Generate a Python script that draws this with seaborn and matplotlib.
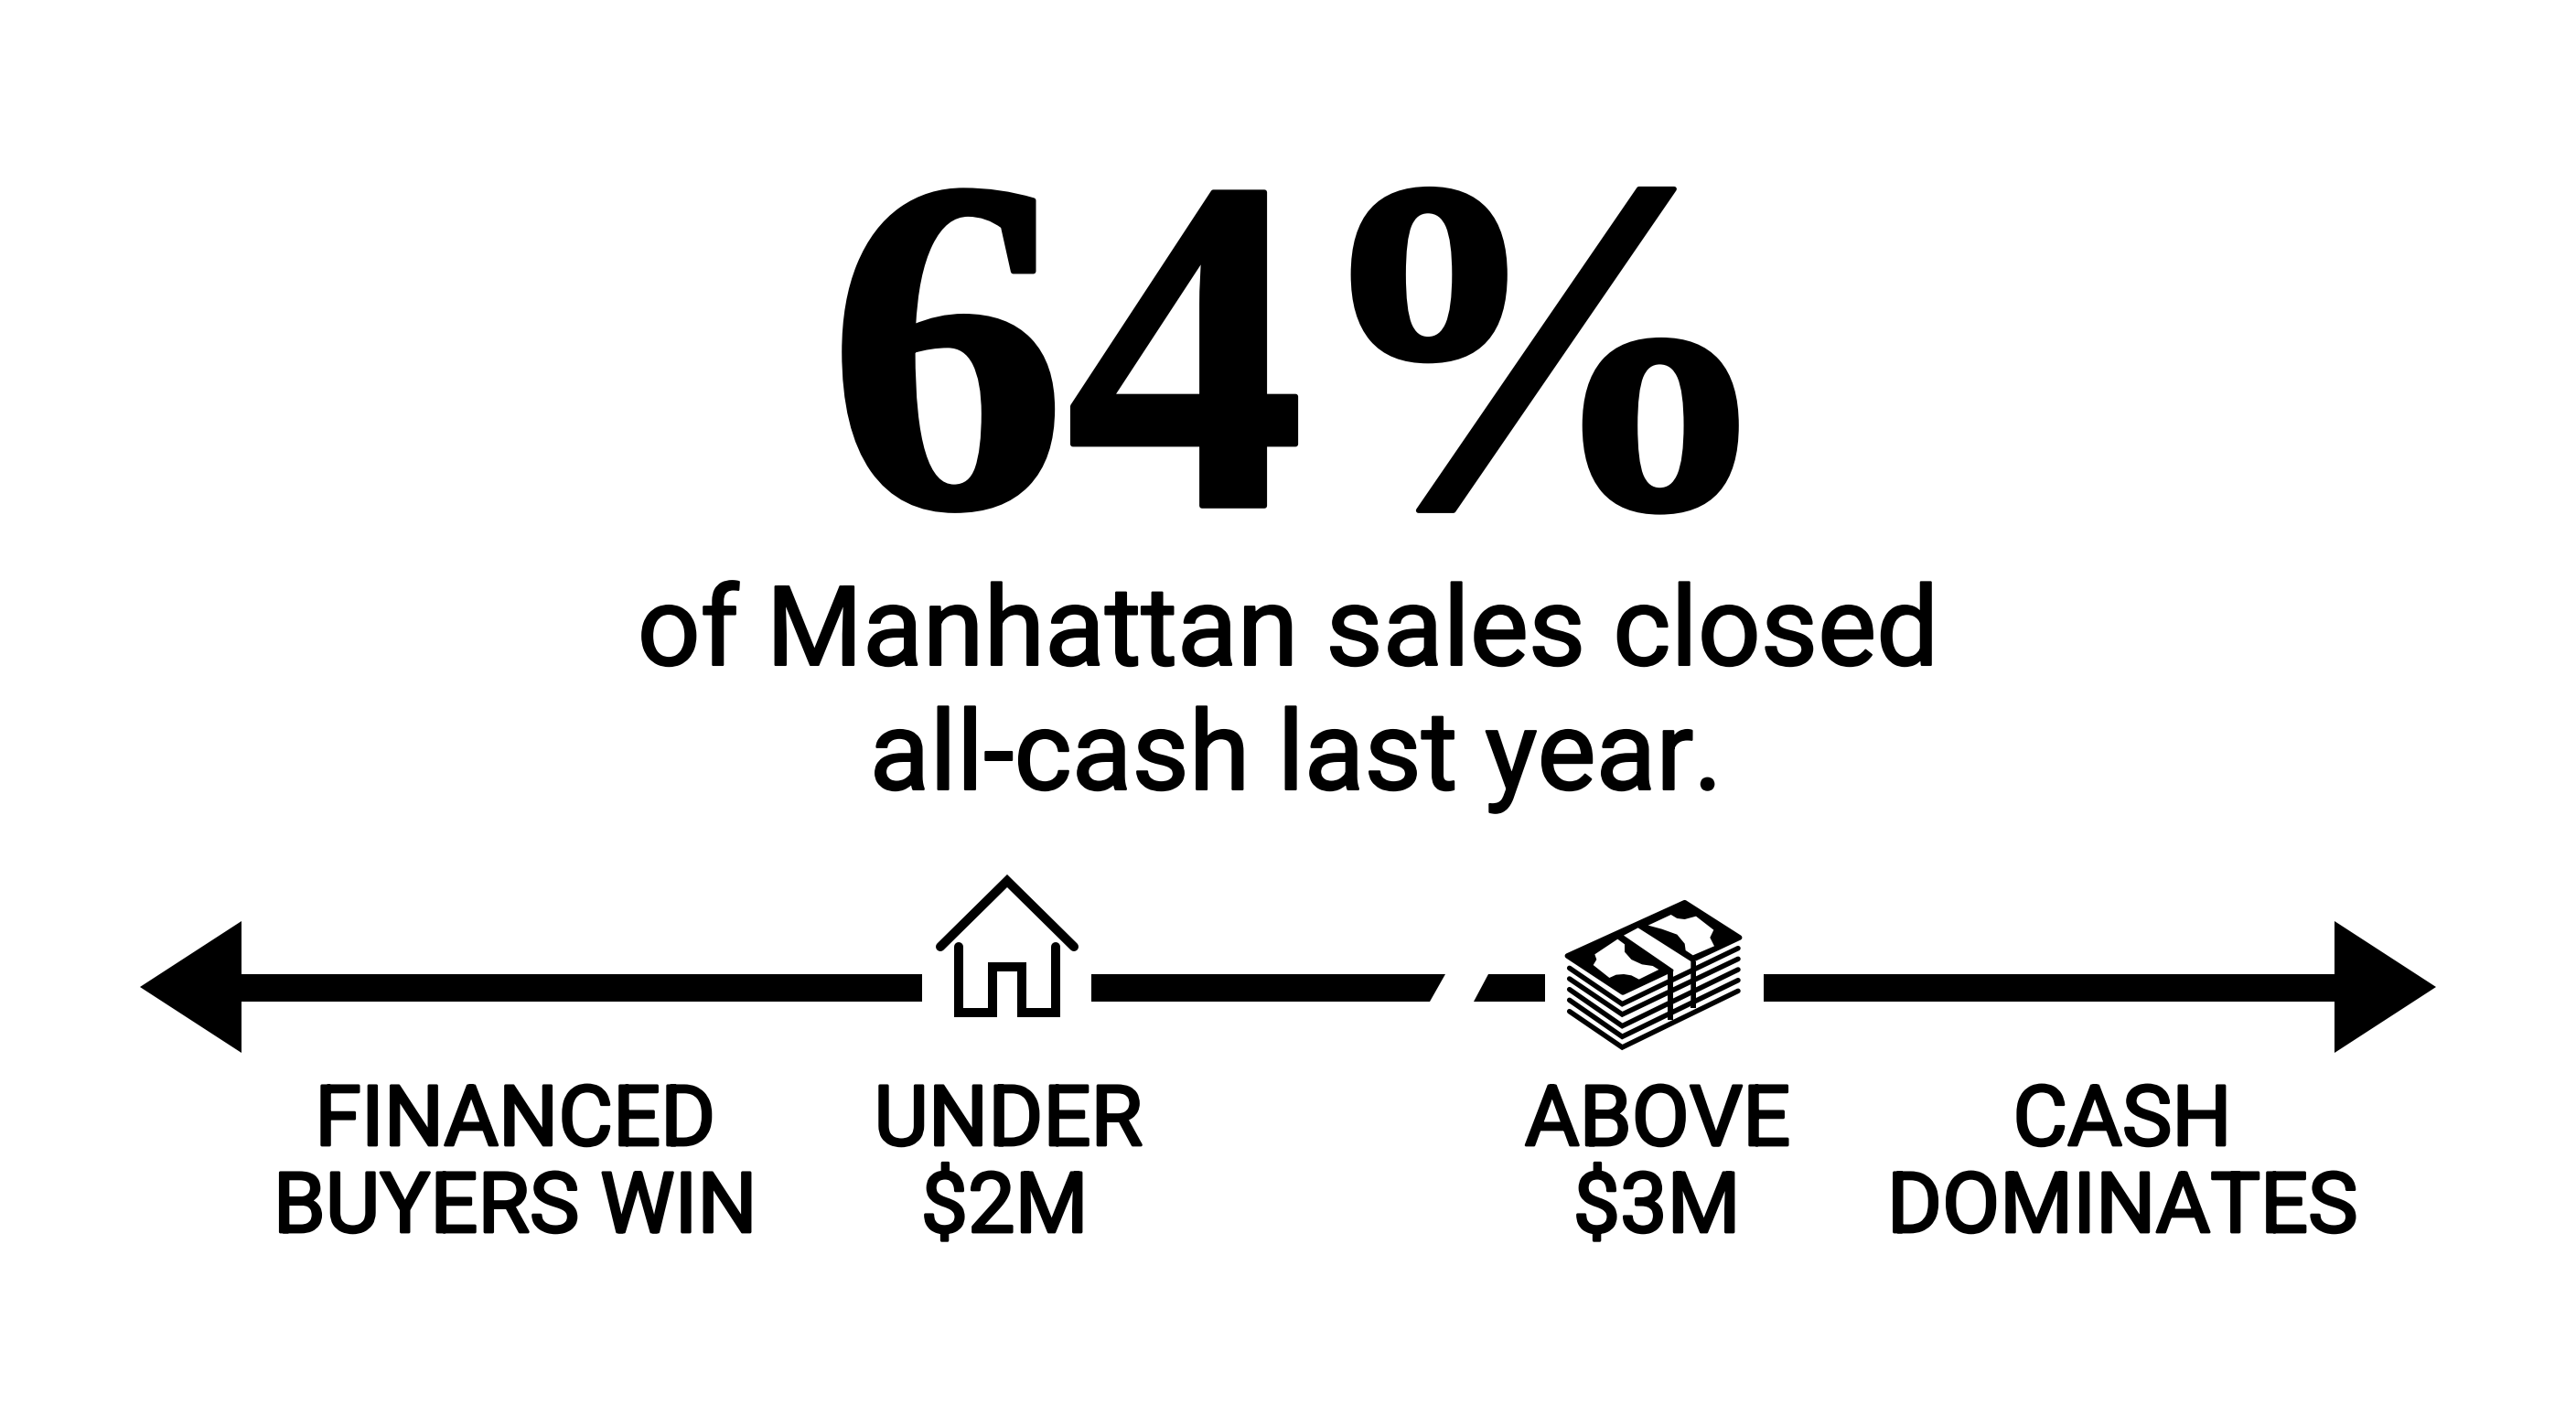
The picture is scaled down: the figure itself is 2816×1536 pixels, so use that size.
import pandas as pd
import matplotlib
matplotlib.use('Agg')
import matplotlib.pyplot as plt
import matplotlib.patheffects as pe
import seaborn as sns

W, H = 2816, 1536

# text
headline = '64%'
sub_lines = ['of Manhattan sales closed', 'all-cash last year.']
sub_x = [1408, 1417]
sub_y = [727, 863]
labels_top = ['FINANCED', 'UNDER', 'ABOVE', 'CASH']
labels_bottom = ['BUYERS WIN', '$2M', '$3M', 'DOMINATES']
labels_top_x = [563, 1102, 1812, 2320]
labels_bottom_x = [563, 1098, 1811, 2320]

# arrow shaft, in pixels of the reference
shaft_y = 1080
shaft_starts = [264, 1193, 1640, 1928]
shaft_ends = [1008, 1560, 1689, 2552]
slash_left = [(1563, 1095), (1580, 1065), (1559, 1065), (1559, 1095)]
slash_right = [(1611, 1095), (1627, 1065), (1641, 1065), (1641, 1095)]
head_left = [(153, 1079), (264, 1007), (264, 1151)]
head_right = [(2663, 1079), (2552, 1007), (2552, 1151)]

# house icon
roof_x = [1028, 1101, 1174]
roof_y = [1035, 963, 1035]
body_x = [1048, 1048, 1085, 1085, 1117, 1117, 1154, 1154]
body_y = [1035, 1107, 1107, 1057, 1057, 1107, 1107, 1035]

bill = [(40, 210), (425, 35), (605, 150), (222, 330)]
note_left = [(130, 205), (136, 222), (125, 240), (178, 282), (200, 272), (225, 270), (250, 274), (275, 287),
             (340, 255), (320, 243), (285, 238), (250, 222), (228, 197), (228, 172), (205, 155)]
note_right = [(305, 110), (380, 75), (400, 87), (425, 90), (462, 80), (520, 125), (508, 150), (522, 178),
              (452, 208), (428, 192), (425, 170), (400, 140), (350, 122)]
band = [(225, 143), (272, 118), (445, 228), (445, 375), (388, 413), (388, 255)]
band_posts = [(370, 250, 388, 420), (445, 228, 462, 380)]
stack_left_y = [250, 285, 320, 355, 392]
stack_tip_y = [368, 402, 440, 475, 510]
stack_right_y = [185, 220, 255, 290, 325]


def money(points):
    return [(1700 + x / 3, 975 + y / 3) for x, y in points]


def lines_frame(xs_list, ys_list):
    rows = []
    for i, (xs, ys) in enumerate(zip(xs_list, ys_list)):
        for x, y in zip(xs, ys):
            rows.append({'seg': i, 'x': x, 'y': y})
    return pd.DataFrame(rows)


def heavier(width):
    # the reference type is a bit heavier than the installed weights
    return [pe.withStroke(linewidth=width, foreground=ink)]


sns.set_theme(style='white')
plt.rcParams['font.family'] = ['Roboto', 'DejaVu Sans']

fig = plt.figure(figsize=(W / 100, H / 100), dpi=100, facecolor='white')
ax = fig.add_axes([0, 0, 1, 1])

ink = '#000000'

# shaft
shaft = lines_frame([[a, b] for a, b in zip(shaft_starts, shaft_ends)], [[shaft_y, shaft_y]] * 4)
sns.lineplot(data=shaft, x='x', y='y', units='seg', estimator=None, sort=False, color=ink,
             linewidth=30 * 0.72, solid_capstyle='butt', legend=False, ax=ax)
ax.fill(*zip(*head_left), color=ink, lw=0)
ax.fill(*zip(*head_right), color=ink, lw=0)
# slanted cut in the shaft
ax.fill(*zip(*slash_left), color=ink, lw=0)
ax.fill(*zip(*slash_right), color=ink, lw=0)

# house
house = lines_frame([roof_x, body_x], [roof_y, body_y])
sns.lineplot(data=house, x='x', y='y', units='seg', estimator=None, sort=False, color=ink,
             linewidth=10 * 0.72, solid_capstyle='round', solid_joinstyle='miter', legend=False, ax=ax)

# cash stack
chevrons_x = []
chevrons_y = []
for ly, ty, ry in zip(stack_left_y, stack_tip_y, stack_right_y):
    pts = money([(47, ly), (220, ty), (600, ry)])
    chevrons_x.append([p[0] for p in pts])
    chevrons_y.append([p[1] for p in pts])
stack = lines_frame(chevrons_x, chevrons_y)
sns.lineplot(data=stack, x='x', y='y', units='seg', estimator=None, sort=False, color=ink,
             linewidth=5.5 * 0.72, solid_capstyle='round', solid_joinstyle='miter', legend=False, ax=ax)
ax.fill(*zip(*money(bill)), color=ink, lw=4, joinstyle='round')
for x0, y0, x1, y1 in band_posts:
    ax.fill(*zip(*money([(x0, y0), (x1, y0), (x1, y1), (x0, y1)])), color=ink, lw=0)
ax.fill(*zip(*money(band)), color='white', lw=0)
ax.fill(*zip(*money(note_left)), color='white', lw=0)
ax.fill(*zip(*money(note_right)), color='white', lw=0)

# headline and text
ax.text(1426, 553, headline, ha='center', va='baseline', fontsize=375, color=ink,
        family=['Liberation Serif', 'DejaVu Serif'], fontweight='bold', path_effects=heavier(4))
for line, x, y in zip(sub_lines, sub_x, sub_y):
    ax.text(x, y, line, ha='center', va='baseline', fontsize=87, color=ink, path_effects=heavier(1.5))
for text, x in zip(labels_top, labels_top_x):
    ax.text(x, 1252, text, ha='center', va='baseline', fontsize=66, color=ink, path_effects=heavier(2))
for text, x in zip(labels_bottom, labels_bottom_x):
    ax.text(x, 1347, text, ha='center', va='baseline', fontsize=66, color=ink, path_effects=heavier(2))

ax.set_xlim(0, W)
ax.set_ylim(H, 0)
ax.axis('off')

fig.savefig('out.png', dpi=100, facecolor='white')
plt.close(fig)
